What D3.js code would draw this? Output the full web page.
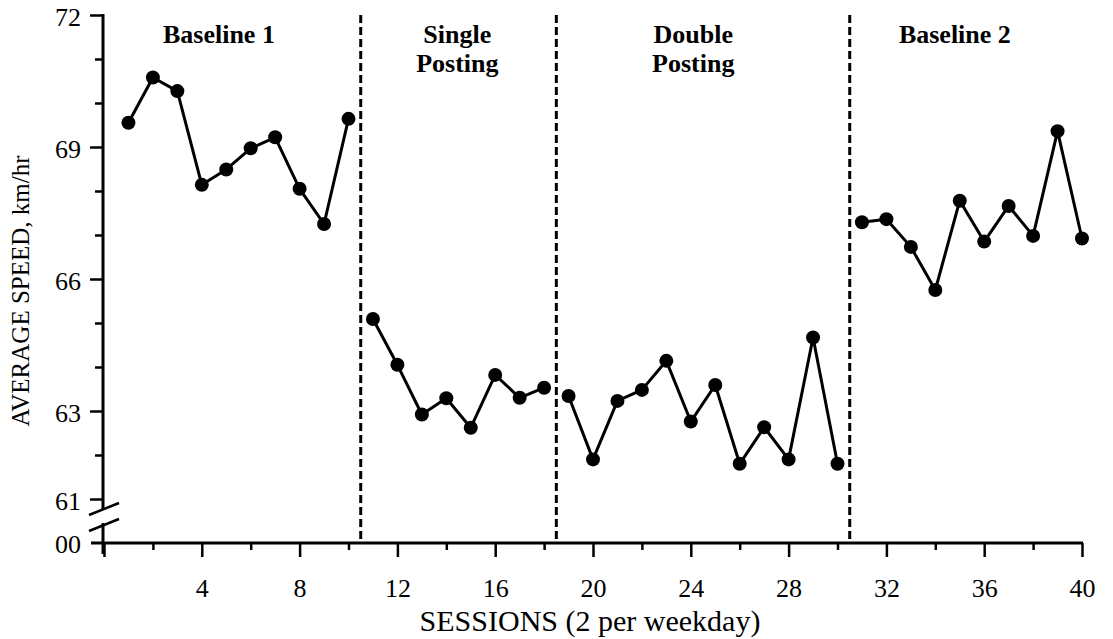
<!DOCTYPE html>
<html>
<head>
<meta charset="utf-8">
<script src="https://cdn.jsdelivr.net/npm/d3@7"></script>
<style>
  html, body { margin: 0; padding: 0; background: #fff; }
  svg { display: block; }
</style>
</head>
<body>
<div id="chart"></div>
<script>
// Average speed (km/hr) per session, one array per phase
const baseline1 = [69.55, 70.58, 70.27, 68.14, 68.49, 68.97, 69.22, 68.05, 67.25, 69.64];
const singlePosting = [65.09, 64.05, 62.92, 63.29, 62.62, 63.82, 63.30, 63.53];
const doublePosting = [63.34, 61.90, 63.23, 63.48, 64.14, 62.76, 63.59, 61.80, 62.63, 61.90, 64.67, 61.80];
const baseline2 = [67.29, 67.36, 66.73, 65.75, 67.78, 66.85, 67.66, 66.98, 69.36, 66.92];

const phases = [baseline1, singlePosting, doublePosting, baseline2];
const phaseLabels = [["Baseline 1"], ["Single", "Posting"], ["Double", "Posting"], ["Baseline 2"]];
const phaseLabelAt = [4.7, 14.45, 24.1, 34.8];   // session where each label is centred
const phaseChanges = [10.5, 18.5, 30.5];

const yMajorTicks = [61, 63, 66, 69, 72];
const yMinorTicks = [62, 64, 65, 67, 68, 70, 71];
const xMajorTicks = [0, 4, 8, 12, 16, 20, 24, 28, 32, 36, 40];
const xMinorTicks = [2, 6, 10, 14, 18, 22, 26, 30, 34, 38];

const width = 1113;
const height = 639;
const font = "'Liberation Serif', 'Times New Roman', serif";

const x = d3.scaleLinear().domain([0, 40]).range([104, 1082]);
const y = d3.scaleLinear().domain([61, 72]).range([499, 15]);
const axisY = 543;   // x axis sits below the break, at "00"

// turn phases into session/value points
let session = 0;
const series = phases.map(vals => vals.map(v => ({ s: ++session, v })));

const svg = d3.select("#chart")
    .append("svg")
    .attr("width", width)
    .attr("height", height)
    .attr("viewBox", [0, 0, width, height])
    .style("font-family", font);

svg.append("rect").attr("width", width).attr("height", height).attr("fill", "#fff");

// Y axis: minor then labelled ticks
svg.append("g")
    .attr("transform", `translate(${x(0) - 1},0)`)
    .call(d3.axisLeft(y).tickValues(yMinorTicks).tickSize(8).tickFormat(""))
    .call(g => g.select(".domain").remove())
    .call(g => g.selectAll(".tick line").attr("stroke", "#000").attr("stroke-width", 2.5));

svg.append("g")
    .attr("transform", `translate(${x(0) - 1},0)`)
    .call(d3.axisLeft(y).tickValues(yMajorTicks).tickSize(13).tickPadding(9))
    .call(g => g.select(".domain").remove())
    .call(g => g.selectAll(".tick line").attr("stroke", "#000").attr("stroke-width", 2.5))
    .call(g => g.selectAll(".tick text")
        .attr("font-family", font)
        .attr("font-size", 26)
        .attr("fill", "#000")
        .attr("dy", "0.4em"));

// Y axis line with break
const ax = x(0) - 1;
svg.append("line")
    .attr("x1", ax).attr("x2", ax)
    .attr("y1", y(72) - 1).attr("y2", 509)
    .attr("stroke", "#000").attr("stroke-width", 3);
svg.append("line")
    .attr("x1", ax).attr("x2", ax)
    .attr("y1", 523).attr("y2", axisY + 11)
    .attr("stroke", "#000").attr("stroke-width", 3);
[[515, 503], [531, 519]].forEach(([ya, yb]) => {
    svg.append("line")
        .attr("x1", ax - 14).attr("y1", ya)
        .attr("x2", ax + 16).attr("y2", yb)
        .attr("stroke", "#000").attr("stroke-width", 2.5);
});

svg.append("text")
    .attr("x", ax - 22)
    .attr("y", axisY)
    .attr("dy", "0.4em")
    .attr("text-anchor", "end")
    .attr("font-size", 26)
    .text("00");

// X axis
svg.append("g")
    .attr("transform", `translate(0,${axisY})`)
    .call(d3.axisBottom(x).tickValues(xMinorTicks).tickSize(7).tickFormat(""))
    .call(g => g.select(".domain").remove())
    .call(g => g.selectAll(".tick line").attr("stroke", "#000").attr("stroke-width", 2.5));

svg.append("g")
    .attr("transform", `translate(0,${axisY})`)
    .call(d3.axisBottom(x).tickValues(xMajorTicks).tickSize(14).tickPadding(22)
        .tickFormat(d => d === 0 ? "" : d))
    .call(g => g.select(".domain").remove())
    .call(g => g.selectAll(".tick line").attr("stroke", "#000").attr("stroke-width", 2.5))
    .call(g => g.selectAll(".tick text")
        .attr("font-family", font)
        .attr("font-size", 26)
        .attr("fill", "#000"));

svg.append("line")
    .attr("x1", ax - 12).attr("x2", x(40) + 1)
    .attr("y1", axisY).attr("y2", axisY)
    .attr("stroke", "#000").attr("stroke-width", 3);

// Axis titles
svg.append("text")
    .attr("transform", `translate(29,${(y(72) + axisY) / 2 + 12}) rotate(-90)`)
    .attr("text-anchor", "middle")
    .attr("font-size", 25)
    .text("AVERAGE SPEED, km/hr");

svg.append("text")
    .attr("x", 590)
    .attr("y", 631)
    .attr("text-anchor", "middle")
    .attr("font-size", 30)
    .text("SESSIONS (2 per weekday)");

// Phase change lines
svg.append("g")
    .selectAll("line")
    .data(phaseChanges)
    .join("line")
    .attr("x1", d => x(d)).attr("x2", d => x(d))
    .attr("y1", y(72)).attr("y2", axisY)
    .attr("stroke", "#000")
    .attr("stroke-width", 3)
    .attr("stroke-dasharray", "8,4");

// Phase labels
svg.append("g")
    .selectAll("text")
    .data(phaseLabels)
    .join("text")
    .attr("x", (d, i) => x(phaseLabelAt[i]))
    .attr("y", 43)
    .attr("text-anchor", "middle")
    .attr("font-size", 26)
    .attr("font-weight", "bold")
    .selectAll("tspan")
    .data(d => d)
    .join("tspan")
    .attr("x", function() { return this.parentNode.getAttribute("x"); })
    .attr("dy", (d, i) => i === 0 ? 0 : 29)
    .text(d => d);

// Data lines and points
const line = d3.line()
    .x(d => x(d.s))
    .y(d => y(d.v));

svg.append("g")
    .attr("fill", "none")
    .attr("stroke", "#000")
    .attr("stroke-width", 3)
    .attr("stroke-linejoin", "round")
    .selectAll("path")
    .data(series)
    .join("path")
    .attr("d", line);

svg.append("g")
    .selectAll("circle")
    .data(series.flat())
    .join("circle")
    .attr("cx", d => x(d.s))
    .attr("cy", d => y(d.v))
    .attr("r", 7)
    .attr("fill", "#000");
</script>
</body>
</html>
